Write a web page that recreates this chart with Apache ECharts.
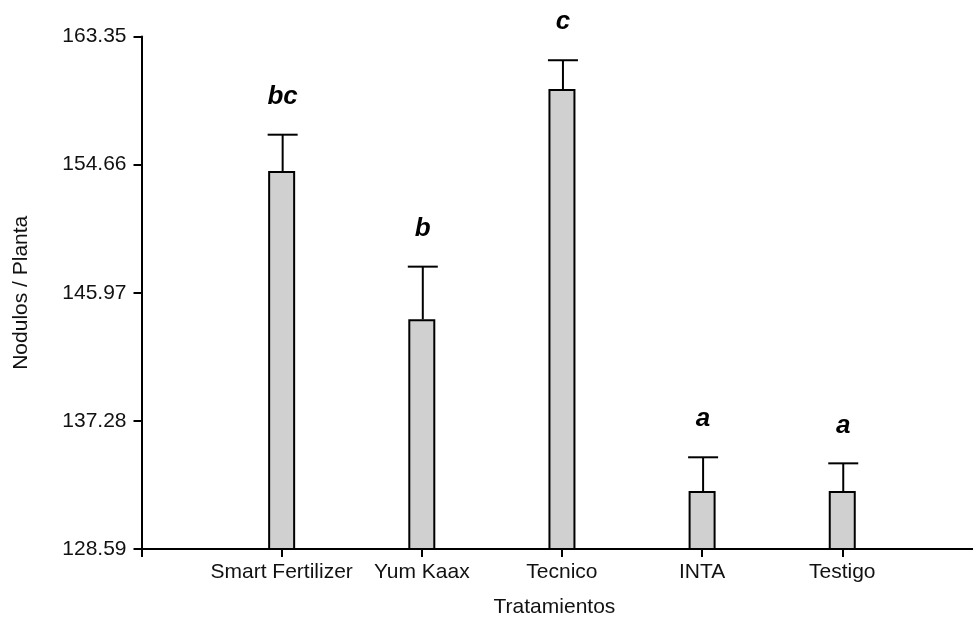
<!DOCTYPE html>
<html>
<head>
<meta charset="utf-8">
<style>html,body{margin:0;padding:0;background:#fff;}#c{width:973px;height:619px;}</style>
<script src="https://cdn.jsdelivr.net/npm/echarts@6/dist/echarts.min.js"></script>
</head>
<body>
<div id="c"></div>
<script>
var categories = ['Smart Fertilizer', 'Yum Kaax', 'Tecnico', 'INTA', 'Testigo'];
var means = [154.23, 144.17, 159.79, 132.52, 132.52];
var upper = [156.69, 147.74, 161.74, 134.81, 134.40];
var letters = ['bc', 'b', 'c', 'a', 'a'];
var yTicks = [128.59, 137.28, 145.97, 154.66, 163.35];

var axisCats = [''].concat(categories).concat(['']);
var barData = means.map(function (v, i) { return [categories[i], v]; });
var errData = means.map(function (v, i) { return [categories[i], v, upper[i], letters[i]]; });

var FONT = 'Liberation Sans, Arial, sans-serif';
var chart = echarts.init(document.getElementById('c'), null, {renderer: 'canvas'});
chart.setOption({
  backgroundColor: '#fff',
  animation: false,
  grid: {left: 141.5, width: 840.9, top: 36.5, height: 512.5, containLabel: false, outerBoundsMode: 'none'},
  xAxis: {
    type: 'category',
    data: axisCats,
    boundaryGap: false,
    name: 'Tratamientos',
    nameLocation: 'middle',
    nameGap: 48,
    nameTextStyle: {fontFamily: FONT, fontSize: 21, color: '#111', padding: [0, 15, 0, 0]},
    axisLine: {show: true, lineStyle: {color: '#000', width: 2}},
    axisTick: {show: true, length: 8, inside: false, alignWithLabel: true, lineStyle: {color: '#000', width: 2}},
    axisLabel: {fontFamily: FONT, fontSize: 21, color: '#111', margin: 13, interval: 0},
    splitLine: {show: false}
  },
  yAxis: {
    type: 'value',
    min: yTicks[0],
    max: yTicks[yTicks.length - 1],
    name: 'Nodulos / Planta',
    nameLocation: 'middle',
    nameGap: 110,
    nameRotate: 90,
    nameTextStyle: {fontFamily: FONT, fontSize: 21, color: '#111'},
    axisLine: {show: true, lineStyle: {color: '#000', width: 2}},
    axisTick: {show: true, length: 8, customValues: yTicks, lineStyle: {color: '#000', width: 2}},
    axisLabel: {fontFamily: FONT, fontSize: 21, color: '#111', margin: 15, customValues: yTicks,
      formatter: function (v) { return v.toFixed(2); }},
    splitLine: {show: false}
  },
  series: [
    {
      type: 'bar',
      data: barData,
      barWidth: 27,
      itemStyle: {color: '#d0d0d0', borderColor: '#000', borderWidth: 2},
      z: 2
    },
    {
      type: 'custom',
      data: errData,
      z: 3,
      renderItem: function (params, api) {
        var x = api.value(0);
        var p0 = api.coord([x, api.value(1)]);
        var p1 = api.coord([x, api.value(2)]);
        var cx = p0[0] + 1;
        var hw = 15;
        return {
          type: 'group',
          children: [
            {type: 'line', shape: {x1: cx, y1: p0[1], x2: cx, y2: p1[1]}, style: {stroke: '#000', lineWidth: 2}},
            {type: 'line', shape: {x1: cx - hw, y1: p1[1], x2: cx + hw, y2: p1[1]}, style: {stroke: '#000', lineWidth: 2}},
            {type: 'text', x: cx, y: p1[1] - 25,
              style: {text: errData[params.dataIndex][3], fill: '#000', font: 'italic bold 26px ' + FONT,
                textAlign: 'center', textVerticalAlign: 'bottom'}}
          ]
        };
      }
    }
  ]
});
</script>
</body>
</html>
